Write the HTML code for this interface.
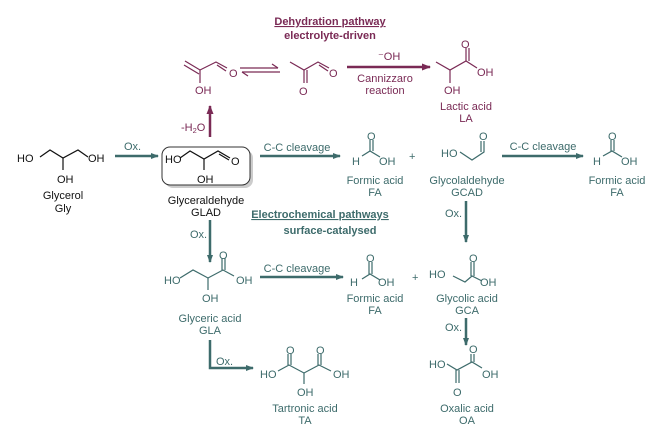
<!DOCTYPE html>
<html><head><meta charset="utf-8"><style>
html,body{margin:0;padding:0;background:#fff}
svg{display:block}
text{font-family:"Liberation Sans",sans-serif;font-size:11px}
.t{fill:#3d6b6b}.m{fill:#7a2a55}.k{fill:#111}
</style></head><body>
<svg width="671" height="436" viewBox="0 0 671 436" xmlns="http://www.w3.org/2000/svg">
<defs>
<marker id="at" markerWidth="8" markerHeight="6" refX="7" refY="3" orient="auto" markerUnits="userSpaceOnUse"><path d="M0,0 L8,3 L0,6 Z" fill="#3d6b6b"/></marker>
<marker id="am" markerWidth="9" markerHeight="7" refX="8" refY="3.5" orient="auto" markerUnits="userSpaceOnUse"><path d="M0,0 L9,3.5 L0,7 Z" fill="#7a2a55"/></marker>
</defs>

<g class="m" text-anchor="middle" font-weight="bold">
<text x="330" y="25" font-size="12.5" text-decoration="underline">Dehydration pathway</text>
<text x="330" y="39" font-size="10">electrolyte-driven</text>
</g>
<g class="t" text-anchor="middle" font-weight="bold">
<text x="320" y="218" font-size="12.5" text-decoration="underline">Electrochemical pathways</text>
<text x="330" y="234" font-size="10">surface-catalysed</text>
</g>

<g stroke="#7a2a55" stroke-width="1.2" fill="none">
<path d="M185,61 L200,70 L216,62 L227,68"/><path d="M184,65 L199,74"/><path d="M217,65 L226,71"/>
<path d="M200,70 L200,83"/>
<path d="M290,62 L304,70 L318,62 L329,68"/><path d="M319,65 L328,71"/>
<path d="M304,70 L304,83"/><path d="M307,70 L307,83"/>
<path d="M436,62 L450,70 L466,61 L477,68"/><path d="M466,61 L466,48"/><path d="M469,61 L469,48"/>
<path d="M450,70 L450,83"/>
<path d="M240,68 L278,68"/><path d="M272,64 L278,68"/>
<path d="M280,72 L242,72"/><path d="M248,76 L242,72"/>
</g>
<line x1="347" y1="67" x2="430" y2="67" stroke="#7a2a55" stroke-width="2.5" marker-end="url(#am)"/>
<line x1="210" y1="137" x2="210" y2="106" stroke="#7a2a55" stroke-width="2.5" marker-end="url(#am)"/>
<g class="m">
<text x="229" y="77">O</text><text x="195" y="94">OH</text>
<text x="329" y="77">O</text><text x="299" y="95">O</text>
<text x="378" y="60">⁻OH</text>
<text x="385" y="82" text-anchor="middle">Cannizzaro</text>
<text x="385" y="94" text-anchor="middle">reaction</text>
<text x="461" y="48">O</text><text x="477" y="76">OH</text><text x="444" y="94">OH</text>
<text x="466" y="110" text-anchor="middle">Lactic acid</text>
<text x="466" y="122" text-anchor="middle">LA</text>
<text x="181" y="131">-H<tspan font-size="7.5" dy="2">2</tspan><tspan dy="-2">O</tspan></text>
</g>

<g stroke="#111" stroke-width="1.2" fill="none">
<path d="M40,157 L50,150 L63,158 L78,150 L88,157"/><path d="M63,158 L63,170"/>
</g>
<g class="k">
<text x="17" y="162">HO</text><text x="88" y="162">OH</text><text x="57" y="183">OH</text>
<text x="63" y="199" text-anchor="middle">Glycerol</text>
<text x="63" y="212" text-anchor="middle">Gly</text>
</g>
<rect x="165" y="150" width="88" height="38" rx="8" fill="#ccc"/>
<rect x="162" y="147" width="88" height="38" rx="8" fill="#fff" stroke="#333" stroke-width="1"/>
<g stroke="#111" stroke-width="1.2" fill="none">
<path d="M180,158 L190,151 L204,159 L218,151 L230,158"/><path d="M219,154 L229,160"/><path d="M204,159 L204,170"/>
</g>
<g class="k">
<text x="165" y="163">HO</text><text x="231" y="165">O</text><text x="197" y="183">OH</text>
<text x="206" y="204" text-anchor="middle">Glyceraldehyde</text>
<text x="206" y="216" text-anchor="middle">GLAD</text>
</g>

<g stroke="#3d6b6b" stroke-width="2.5" fill="none">
<line x1="115" y1="156" x2="158" y2="156" marker-end="url(#at)"/>
<line x1="260" y1="156" x2="340" y2="156" marker-end="url(#at)"/>
<line x1="502" y1="156" x2="583" y2="156" marker-end="url(#at)"/>
<line x1="210" y1="220" x2="210" y2="262" marker-end="url(#at)"/>
<line x1="466" y1="201" x2="466" y2="242" marker-end="url(#at)"/>
<line x1="260" y1="277" x2="343" y2="277" marker-end="url(#at)"/>
<line x1="466" y1="318" x2="466" y2="345" marker-end="url(#at)"/>
<path d="M210,340 L210,368 L253,368" marker-end="url(#at)"/>
</g>
<g class="t">
<text x="124" y="150">Ox.</text>
<text x="297" y="151" text-anchor="middle">C-C cleavage</text>
<text x="543" y="150" text-anchor="middle">C-C cleavage</text>
<text x="190" y="238">Ox.</text>
<text x="445" y="217">Ox.</text>
<text x="297" y="272" text-anchor="middle">C-C cleavage</text>
<text x="445" y="331">Ox.</text>
<text x="216" y="365">Ox.</text>
</g>

<g stroke="#3d6b6b" stroke-width="1.2" fill="none">
<path d="M362,156 L370,151 L380,157"/><path d="M370,151 L370,140"/><path d="M373,151 L373,140"/>
<path d="M460,152 L472,160 L484,152 L484,141"/><path d="M481,152 L481,141"/>
<path d="M603,156 L612,151 L622,157"/><path d="M611,151 L611,140"/><path d="M614,151 L614,140"/>
<path d="M180,278 L193,270 L208,278 L223,270 L234,276"/><path d="M222,270 L222,258"/><path d="M225,270 L225,258"/><path d="M208,278 L208,290"/>
<path d="M362,279 L370,274 L380,280"/><path d="M369,274 L369,262"/><path d="M372,274 L372,262"/>
<path d="M453,276 L465,282 L472,276 L482,281"/><path d="M471,276 L471,262"/><path d="M474,276 L474,262"/>
<path d="M278,371 L289,365 L304,373 L319,365 L331,371"/><path d="M288,365 L288,354"/><path d="M291,365 L291,354"/><path d="M318,365 L318,354"/><path d="M321,365 L321,354"/><path d="M304,373 L304,384"/>
<path d="M447,364 L457,370 L472,362 L482,368"/><path d="M456,370 L456,383"/><path d="M459,370 L459,383"/><path d="M471,362 L471,354"/><path d="M474,362 L474,354"/>
</g>
<g class="t">
<text x="352" y="165">H</text><text x="367" y="140">O</text><text x="379" y="165">OH</text>
<text x="375" y="184" text-anchor="middle">Formic acid</text><text x="375" y="196" text-anchor="middle">FA</text>
<text x="409" y="160">+</text>
<text x="441" y="157">HO</text><text x="479" y="140">O</text>
<text x="467" y="184" text-anchor="middle">Glycolaldehyde</text><text x="467" y="196" text-anchor="middle">GCAD</text>
<text x="593" y="165">H</text><text x="608" y="140">O</text><text x="621" y="165">OH</text>
<text x="617" y="184" text-anchor="middle">Formic acid</text><text x="617" y="196" text-anchor="middle">FA</text>

<text x="164" y="284">HO</text><text x="236" y="284">OH</text><text x="219" y="259">O</text><text x="202" y="302">OH</text>
<text x="210" y="322" text-anchor="middle">Glyceric acid</text><text x="210" y="334" text-anchor="middle">GLA</text>
<text x="350" y="286">H</text><text x="366" y="262">O</text><text x="378" y="286">OH</text>
<text x="375" y="302" text-anchor="middle">Formic acid</text><text x="375" y="314" text-anchor="middle">FA</text>
<text x="412" y="281">+</text>
<text x="429" y="278">HO</text><text x="469" y="262">O</text><text x="480" y="286">OH</text>
<text x="467" y="302" text-anchor="middle">Glycolic acid</text><text x="467" y="314" text-anchor="middle">GCA</text>

<text x="260" y="378">HO</text><text x="333" y="378">OH</text><text x="286" y="354">O</text><text x="316" y="354">O</text><text x="297" y="396">OH</text>
<text x="305" y="412" text-anchor="middle">Tartronic acid</text><text x="305" y="424" text-anchor="middle">TA</text>
<text x="429" y="368">HO</text><text x="482" y="378">OH</text><text x="469" y="353">O</text><text x="453" y="396">O</text>
<text x="467" y="412" text-anchor="middle">Oxalic acid</text><text x="467" y="424" text-anchor="middle">OA</text>
</g>
</svg>
</body></html>
